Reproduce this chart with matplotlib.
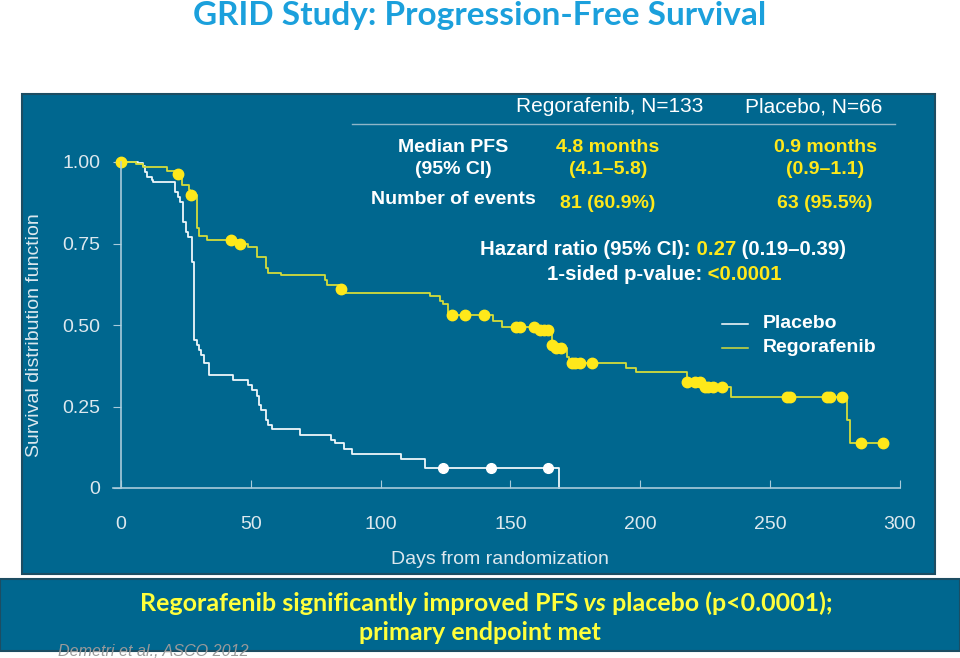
import matplotlib
matplotlib.use('Agg')
import matplotlib.pyplot as plt
from matplotlib.patches import Rectangle

# Kaplan-Meier steps (days, survival after the step)
rego_days = [0, 5.6, 8.5, 17.6, 21.0, 23.5, 26.0, 26.5, 29.1, 30.0, 33.0, 45.0, 49.0, 52.2,
             56.0, 56.7, 61.8, 78.5, 79.2, 84.0, 85.5, 119.0, 122.8, 124.0, 126.0, 143.3,
             146.8, 160.0, 165.8, 167.0, 171.6, 172.6, 194.6, 198.5, 217.8, 224.0, 235.0,
             279.4, 280.7, 293.5]
rego_surv = [1.0, 0.995, 0.984, 0.973, 0.962, 0.93, 0.914, 0.90, 0.797, 0.773, 0.761, 0.748,
             0.738, 0.710, 0.674, 0.660, 0.653, 0.638, 0.623, 0.609, 0.597, 0.589, 0.575,
             0.563, 0.53, 0.512, 0.495, 0.484, 0.44, 0.43, 0.403, 0.382, 0.368, 0.355,
             0.326, 0.311, 0.278, 0.209, 0.137, 0.137]
rego_cens_days = [0, 22.0, 26.9, 42.2, 46.0, 84.6, 127.6, 132.3, 139.9, 152.3, 153.6, 159.0,
                  161.3, 163.0, 164.5, 165.8, 167.7, 169.3, 173.5, 174.8, 176.7, 181.4,
                  217.8, 221.0, 223.0, 224.9, 226.2, 228.1, 231.3, 256.3, 257.6, 271.7,
                  273.0, 277.5, 285.1, 293.5]
rego_cens_surv = [1.0, 0.962, 0.90, 0.761, 0.748, 0.609, 0.53, 0.53, 0.53, 0.495, 0.495,
                  0.495, 0.484, 0.484, 0.484, 0.44, 0.43, 0.43, 0.382, 0.382, 0.382, 0.382,
                  0.326, 0.326, 0.326, 0.311, 0.311, 0.311, 0.311, 0.278, 0.278, 0.278,
                  0.278, 0.278, 0.137, 0.137]

plac_days = [0, 6.6, 8.3, 9.2, 10.1, 11.8, 12.4, 20.8, 22.0, 22.9, 23.7, 25.0, 25.9, 27.2,
             28.2, 29.1, 30.1, 31.0, 32.0, 34.0, 43.2, 49.0, 50.3, 52.2, 53.2, 54.1, 55.8,
             56.7, 58.0, 69.1, 81.0, 82.4, 86.0, 88.8, 108.0, 117.0, 168.8]
plac_surv = [1.0, 0.996, 0.988, 0.970, 0.955, 0.945, 0.938, 0.909, 0.894, 0.878, 0.817,
             0.786, 0.771, 0.694, 0.454, 0.439, 0.423, 0.408, 0.382, 0.347, 0.331, 0.316,
             0.301, 0.282, 0.255, 0.239, 0.209, 0.193, 0.180, 0.164, 0.148, 0.139, 0.119,
             0.104, 0.088, 0.060, 0.0]
plac_cens_days = [124.1, 142.3, 164.5]
plac_cens_surv = [0.060, 0.060, 0.060]

x_ticks = [0, 50, 100, 150, 200, 250, 300]
y_ticks = [0, 0.25, 0.5, 0.75, 1.0]
y_ticklabels = ['0', '0.25', '0.50', '0.75', '1.00']

BLUE = '#00678f'
EDGE = '#1d4d62'
AXC = '#a9cbdb'
LIGHT = '#dde8ee'
YEL = '#ffe81a'
YLINE = '#d4dc3a'
ARIAL = 'Liberation Sans'
CALIBRI = 'Lato'


def main():
    fig = plt.figure(figsize=(9.6, 6.58), dpi=100)
    fig.patch.set_facecolor('white')

    # background layer in pixel coordinates
    bg = fig.add_axes([0, 0, 1, 1])
    bg.set_xlim(0, 960)
    bg.set_ylim(658, 0)
    bg.axis('off')
    bg.add_patch(Rectangle((22, 94), 913, 480, fc=BLUE, ec=EDGE, lw=1.5))
    bg.add_patch(Rectangle((0, 579), 960, 72, fc=BLUE, ec=EDGE, lw=1.5))

    bg.text(480, 16, 'GRID Study: Progression-Free Survival', ha='center', va='center',
            fontsize=24, fontweight='bold', color='#1ba0dc', family=CALIBRI)

    # table
    bg.text(610, 107, 'Regorafenib, N=133', ha='center', va='center', fontsize=15,
            color='white', family=ARIAL)
    bg.text(814, 107, 'Placebo, N=66', ha='center', va='center', fontsize=15,
            color='white', family=ARIAL)
    bg.plot([352, 895], [124, 124], color='#8fb6c8', lw=1)
    b = dict(fontsize=14, fontweight='bold', family=ARIAL, ha='center', va='center')
    bg.text(453, 147, 'Median PFS', color='white', **b)
    bg.text(453, 170, '(95% CI)', color='white', **b)
    bg.text(608, 147, '4.8 months', color=YEL, **b)
    bg.text(608, 170, '(4.1\u20135.8)', color=YEL, **b)
    bg.text(825, 147, '0.9 months', color=YEL, **b)
    bg.text(825, 170, '(0.9\u20131.1)', color=YEL, **b)
    bg.text(453, 200, 'Number of events', color='white', **b)
    bg.text(608, 203, '81 (60.9%)', color=YEL, **b)
    bg.text(825, 203, '63 (95.5%)', color=YEL, **b)

    # hazard ratio lines, coloured pieces chained together
    h = dict(fontsize=14.7, fontweight='bold', family=ARIAL, va='bottom', ha='left')
    t = bg.text(480, 259, 'Hazard ratio (95% CI):', color='white', **h)
    t = bg.annotate(' 0.27', xy=(1, 0), xycoords=t, color=YEL, **h)
    bg.annotate(' (0.19\u20130.39)', xy=(1, 0), xycoords=t, color='white', **h)
    t = bg.text(547, 284, '1-sided p-value:', color='white', **h)
    bg.annotate(' <0.0001', xy=(1, 0), xycoords=t, color=YEL, **h)

    # legend
    bg.plot([722, 748], [324, 324], color='white', lw=1.1)
    bg.plot([722, 748], [348, 348], color=YLINE, lw=1.1)
    bg.text(763, 324, 'Placebo', color='white', fontsize=14, fontweight='bold',
            family=ARIAL, va='center')
    bg.text(763, 348, 'Regorafenib', color='white', fontsize=14, fontweight='bold',
            family=ARIAL, va='center')

    bg.text(35, 335, 'Survival distribution function', rotation=90, ha='center',
            va='center', fontsize=14, color=LIGHT, family=ARIAL)
    bg.text(500, 560, 'Days from randomization', ha='center', va='center',
            fontsize=14, color=LIGHT, family=ARIAL)

    # banner
    k = dict(fontsize=18, fontweight='bold', color='#ffff3c', family=CALIBRI,
             va='bottom', ha='left')
    t = bg.text(140, 615, 'Regorafenib significantly improved PFS', **k)
    t = bg.annotate(' vs', xy=(1, 0), xycoords=t, style='italic', **k)
    bg.annotate(' placebo (p<0.0001);', xy=(1, 0), xycoords=t, **k)
    bg.text(480, 633, 'primary endpoint met', ha='center', va='center', fontsize=18,
            fontweight='bold', color='#ffff3c', family=CALIBRI)
    bg.text(58, 659, 'Demetri et al., ASCO 2012', ha='left', va='bottom', fontsize=11.6,
            style='italic', color='#9a9a9a', family=ARIAL)

    # survival plot
    left = 113.2
    right = 900
    top = 162
    bottom = 488
    ax = fig.add_axes([left / 960, (658 - bottom) / 658, (right - left) / 960,
                       (bottom - top) / 658])
    ax.patch.set_visible(False)
    ax.set_xlim(-3, 300)
    ax.set_ylim(0, 1)

    ax.step(plac_days, plac_surv, where='post', color='#eef6fa', lw=1.3, clip_on=False)
    ax.plot(plac_cens_days, plac_cens_surv, 'o', color='white', ms=7, clip_on=False)
    ax.step(rego_days, rego_surv, where='post', color=YLINE, lw=1.3, clip_on=False)
    ax.plot(rego_cens_days, rego_cens_surv, 'o', color=YEL, ms=7.5, clip_on=False)

    for s in ['top', 'right']:
        ax.spines[s].set_visible(False)
    ax.spines['left'].set_position(('data', 0))
    ax.spines['left'].set_color(AXC)
    ax.spines['bottom'].set_color(AXC)
    ax.spines['left'].set_linewidth(1.2)
    ax.spines['bottom'].set_linewidth(1.2)

    ax.set_xticks(x_ticks)
    ax.set_yticks(y_ticks)
    ax.set_yticklabels(y_ticklabels)
    ax.tick_params(axis='x', direction='in', length=6, pad=20, color=AXC,
                   labelcolor=LIGHT, labelsize=14)
    ax.tick_params(axis='y', direction='out', length=6, pad=9, color=AXC,
                   labelcolor=LIGHT, labelsize=14)
    for lab in ax.get_xticklabels() + ax.get_yticklabels():
        lab.set_family(ARIAL)

    fig.savefig('out.png', dpi=100)


if __name__ == '__main__':
    main()
